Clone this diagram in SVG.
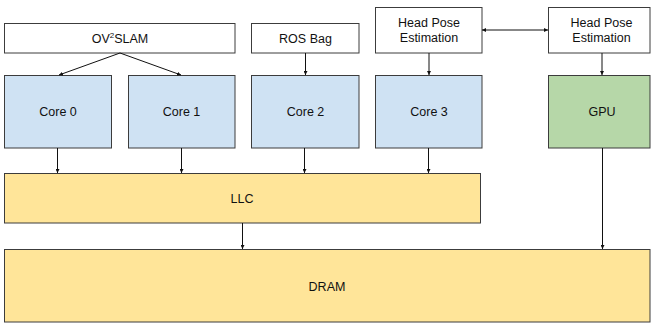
<svg xmlns="http://www.w3.org/2000/svg" width="651" height="323" viewBox="0 0 651 323">
  <style>
    .box { stroke: #3c3c3c; stroke-width: 1; }
    .plain { fill: #ffffff; }
    .cpu { fill: #cfe2f3; }
    .gpu { fill: #b6d7a8; }
    .mem { fill: #ffe599; }
    text { font-family: "Liberation Sans", Arial, sans-serif; font-size: 12.5px; fill: #111111; text-anchor: middle; dominant-baseline: central; }
    .wire { stroke: #111111; stroke-width: 1; fill: none; }
  </style>
  <defs>
    <marker id="head" viewBox="0 0 8 8" refX="8" refY="4" markerWidth="4" markerHeight="4" orient="auto-start-reverse" markerUnits="userSpaceOnUse">
      <path d="M0,0 L8,4 L0,8 Z" fill="#111111"/>
    </marker>
  </defs>
  <rect width="651" height="323" fill="#ffffff"/>

  <g id="ov2slam">
    <rect class="box plain" x="4.5" y="23.5" width="230.5" height="29.5"/>
    <text x="120" y="38.5">OV<tspan font-size="8px" dy="-4">2</tspan><tspan dy="4">SLAM</tspan></text>
  </g>
  <g id="rosbag">
    <rect class="box plain" x="251.5" y="23.5" width="107.5" height="29.5"/>
    <text x="305.5" y="38.5">ROS Bag</text>
  </g>
  <g id="headpose-cpu">
    <rect class="box plain" x="375.5" y="7.5" width="106.5" height="45.5"/>
    <text x="429" y="22.5">Head Pose</text>
    <text x="429" y="37.5">Estimation</text>
  </g>
  <g id="headpose-gpu">
    <rect class="box plain" x="548.5" y="7.5" width="101.5" height="45.5"/>
    <text x="601.5" y="22.5">Head Pose</text>
    <text x="601.5" y="37.5">Estimation</text>
  </g>

  <g id="core0">
    <rect class="box cpu" x="4.5" y="75.5" width="107" height="72.5"/>
    <text x="58" y="112">Core 0</text>
  </g>
  <g id="core1">
    <rect class="box cpu" x="128.5" y="75.5" width="106.5" height="72.5"/>
    <text x="181.5" y="112">Core 1</text>
  </g>
  <g id="core2">
    <rect class="box cpu" x="251.5" y="75.5" width="107.5" height="72.5"/>
    <text x="305.5" y="112">Core 2</text>
  </g>
  <g id="core3">
    <rect class="box cpu" x="375.5" y="75.5" width="106.5" height="72.5"/>
    <text x="429" y="112">Core 3</text>
  </g>
  <g id="gpu">
    <rect class="box gpu" x="548.5" y="75.5" width="101.5" height="72.5"/>
    <text x="602" y="112">GPU</text>
  </g>

  <g id="llc">
    <rect class="box mem" x="4.5" y="173.5" width="476" height="49.5"/>
    <text x="242" y="199">LLC</text>
  </g>
  <g id="dram">
    <rect class="box mem" x="4.5" y="249.5" width="645.5" height="72.5"/>
    <text x="327" y="286.5">DRAM</text>
  </g>

  <g id="connectors">
    <line class="wire" x1="120" y1="53" x2="59" y2="75" marker-end="url(#head)"/>
    <line class="wire" x1="120" y1="53" x2="181" y2="75" marker-end="url(#head)"/>
    <line class="wire" x1="305.5" y1="53" x2="305.5" y2="75" marker-end="url(#head)"/>
    <line class="wire" x1="429" y1="53" x2="429" y2="75" marker-end="url(#head)"/>
    <line class="wire" x1="602" y1="53" x2="602" y2="75" marker-end="url(#head)"/>
    <line class="wire" x1="482" y1="30" x2="548" y2="30" marker-start="url(#head)" marker-end="url(#head)"/>
    <line class="wire" x1="57.5" y1="148" x2="57.5" y2="173" marker-end="url(#head)"/>
    <line class="wire" x1="181.5" y1="148" x2="181.5" y2="173" marker-end="url(#head)"/>
    <line class="wire" x1="304.5" y1="148" x2="304.5" y2="173" marker-end="url(#head)"/>
    <line class="wire" x1="428.5" y1="148" x2="428.5" y2="173" marker-end="url(#head)"/>
    <line class="wire" x1="242.5" y1="223" x2="242.5" y2="249" marker-end="url(#head)"/>
    <line class="wire" x1="602.5" y1="148" x2="602.5" y2="249" marker-end="url(#head)"/>
  </g>
</svg>
